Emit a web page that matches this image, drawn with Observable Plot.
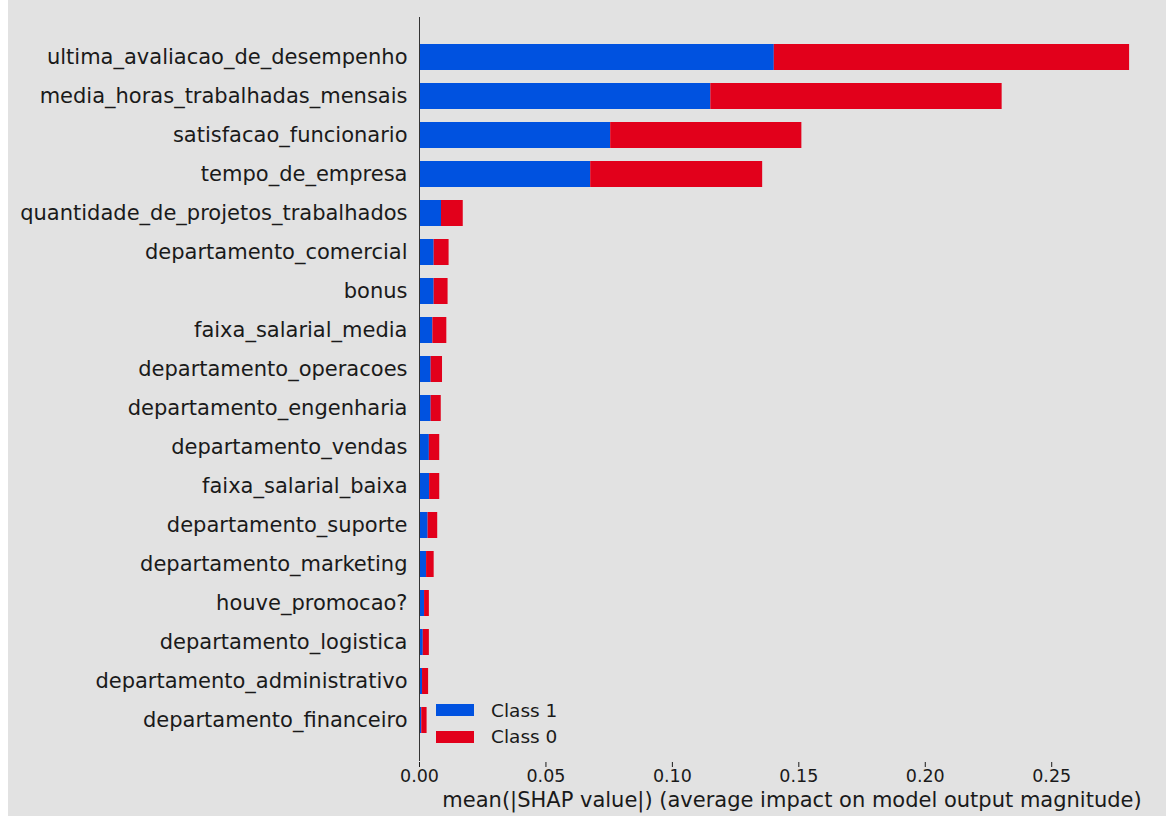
<!DOCTYPE html>
<html>
<head>
<meta charset="utf-8">
<script src="https://cdn.jsdelivr.net/npm/d3@7"></script>
<script src="https://cdn.jsdelivr.net/npm/@observablehq/plot@0.6"></script>
<style>
  html, body { margin: 0; padding: 0; background: #e2e2e2; }
  body { width: 1166px; height: 816px; position: relative; overflow: hidden; font-family: "DejaVu Sans", sans-serif; }
  #strip { position: absolute; left: 0; top: 0; width: 8px; height: 816px; background: #fff; }
  #chart { position: absolute; left: 0; top: 0; }
  #legend { position: absolute; left: 436px; top: 697px; font-size: 18.5px; color: #1a1a1a; }
  #legend .row { display: flex; align-items: center; height: 26.5px; }
  #legend .sw { width: 38px; height: 12px; margin-right: 17px; }
</style>
</head>
<body>
<div id="strip"></div>
<div id="chart"></div>
<div id="legend"></div>
<script>
const features = [
  "ultima_avaliacao_de_desempenho",
  "media_horas_trabalhadas_mensais",
  "satisfacao_funcionario",
  "tempo_de_empresa",
  "quantidade_de_projetos_trabalhados",
  "departamento_comercial",
  "bonus",
  "faixa_salarial_media",
  "departamento_operacoes",
  "departamento_engenharia",
  "departamento_vendas",
  "faixa_salarial_baixa",
  "departamento_suporte",
  "departamento_marketing",
  "houve_promocao?",
  "departamento_logistica",
  "departamento_administrativo",
  "departamento_financeiro"
];
const class1 = [0.1403, 0.1152, 0.0756, 0.0677, 0.0087, 0.0058, 0.0058, 0.0053, 0.0046, 0.0046, 0.0039, 0.0040, 0.0034, 0.0028, 0.0020, 0.0015, 0.0012, 0.0009];
const class0 = [0.1405, 0.1152, 0.0756, 0.0680, 0.0086, 0.0059, 0.0055, 0.0055, 0.0045, 0.0040, 0.0041, 0.0040, 0.0038, 0.0030, 0.0019, 0.0024, 0.0024, 0.0021];
const classes = ["Class 1", "Class 0"];
const classColors = ["#0052e0", "#e2001b"];
const xTicks = [0, 0.05, 0.10, 0.15, 0.20, 0.25];

const rows = [];
features.forEach((f, i) => {
  rows.push({feature: f, cls: "Class 1", value: class1[i]});
  rows.push({feature: f, cls: "Class 0", value: class0[i]});
});

const chart = Plot.plot({
  width: 1166,
  height: 816,
  marginLeft: 419,
  marginRight: 2,
  marginTop: 17,
  marginBottom: 56,
  style: {background: "transparent", fontFamily: "DejaVu Sans, sans-serif", color: "#1a1a1a"},
  x: {domain: [0, 0.2946]},
  y: {domain: features, paddingInner: 0.33, paddingOuter: 0.665},
  color: {domain: classes, range: classColors},
  marks: [
    Plot.barX(rows, Plot.stackX({y: "feature", x: "value", fill: "cls", order: null})),
    Plot.frame({anchor: "left", stroke: "#333", strokeWidth: 1}),
    Plot.ruleY([0], {frameAnchor: "bottom", stroke: "#333", strokeWidth: 1, dy: 2}),
    Plot.axisY({tickSize: 0, tickPadding: 12, fontSize: 21, label: null}),
    Plot.axisX({ticks: xTicks, tickFormat: ".2f", tickSize: 5, tickPadding: 2, fontSize: 17.5, label: null, dy: 2}),
    Plot.text(["mean(|SHAP value|) (average impact on model output magnitude)"], {frameAnchor: "bottom", dy: 46, fontSize: 21, fill: "#1a1a1a"})
  ]
});
document.getElementById("chart").appendChild(chart);

const legend = document.getElementById("legend");
classes.forEach((c, i) => {
  const row = document.createElement("div");
  row.className = "row";
  const sw = document.createElement("div");
  sw.className = "sw";
  sw.style.background = classColors[i];
  const t = document.createElement("span");
  t.textContent = c;
  row.appendChild(sw);
  row.appendChild(t);
  legend.appendChild(row);
});
</script>
</body>
</html>
